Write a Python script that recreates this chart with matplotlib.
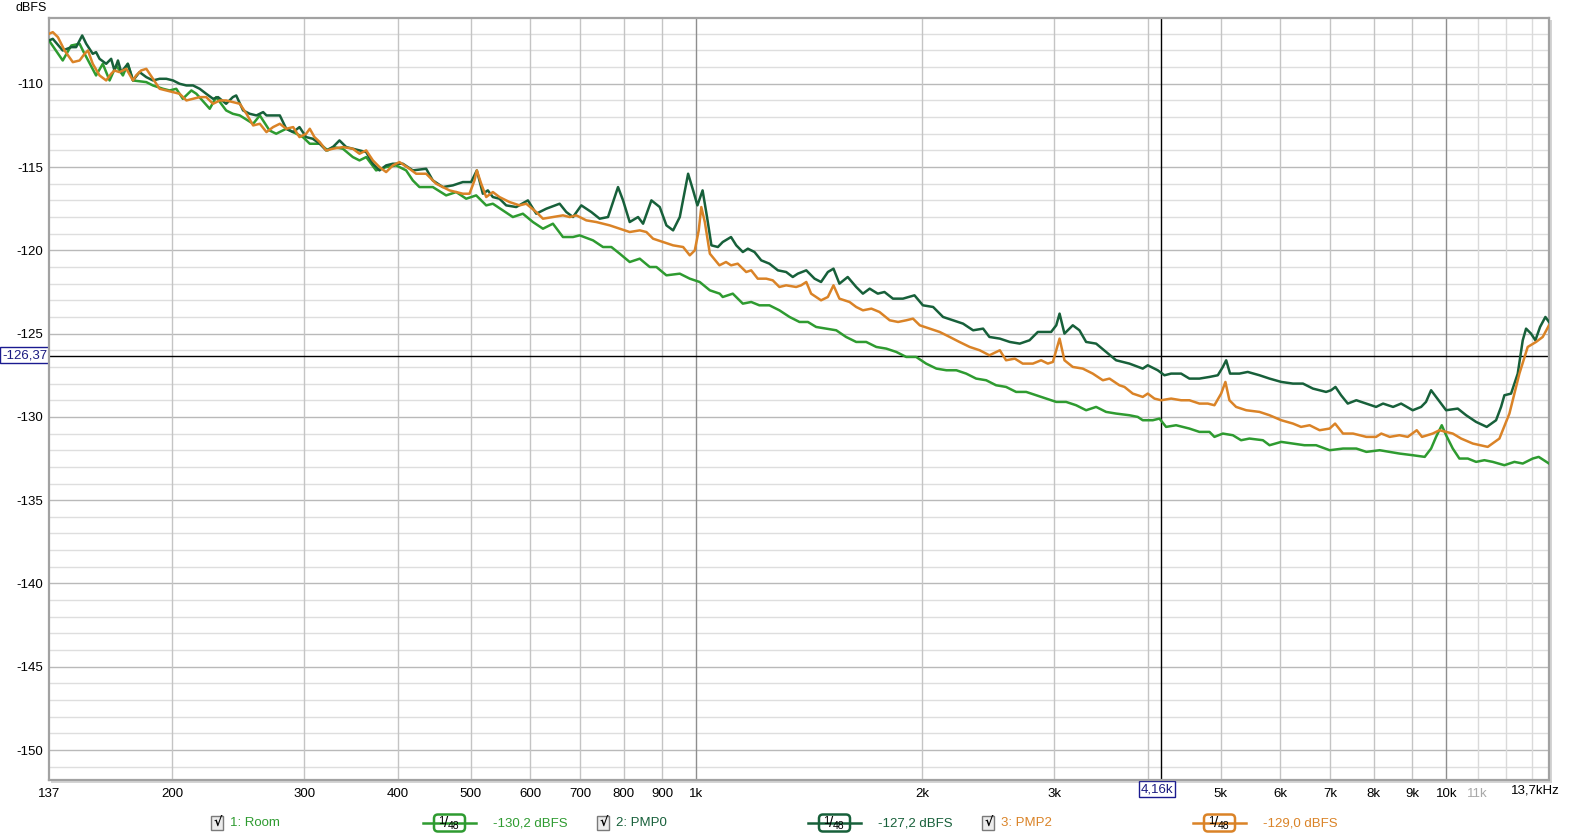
# Spectrum comparison, 1/48 octave smoothing (Room / PMP0 / PMP2)

import matplotlib.pyplot as plt
from matplotlib.patches import Rectangle, FancyBboxPatch

plt.rcParams['font.family'] = ['Liberation Sans Narrow', 'Liberation Sans', 'DejaVu Sans']

# ---- data (Hz, dBFS) ----
room_f = [137, 142.9, 146.7, 150.5, 152.0, 158.3, 161.6, 165.0, 168.4, 171.9, 174.5, 177.3,
          184.7, 188.5, 194.4, 198.4, 202.5, 206.6, 212.1, 215.4, 224.4, 228.9, 236.0, 240.9,
          246.1, 256.4, 261.7, 269.6, 275.2, 283.8, 289.9, 298.7, 305.1, 314.6, 322.4, 327.5,
          337.7, 348.2, 355.4, 362.8, 374.0, 385.7, 397.7, 410.1, 418.6, 427.2, 445.1, 463.7,
          478.2, 493.1, 508.5, 524.4, 535.2, 551.9, 569.1, 586.9, 605.3, 624.2, 643.6, 663.7,
          684.5, 698.6, 727.9, 750.6, 770.1, 790.1, 814.7, 840.2, 866.4, 884.3, 911.9, 950.1,
          979.7, 1010, 1042, 1074, 1084, 1118, 1153, 1183, 1213, 1251, 1290, 1331, 1372, 1408,
          1444, 1489, 1536, 1583, 1633, 1684, 1737, 1791, 1847, 1904, 1963, 2024, 2089, 2154,
          2221, 2289, 2360, 2434, 2509, 2587, 2668, 2752, 2837, 2926, 3018, 3111, 3208, 3308,
          3411, 3517, 3627, 3778, 3876, 3936, 4059, 4143, 4228, 4360, 4542, 4684, 4831, 4905,
          5033, 5190, 5323, 5461, 5692, 5809, 6022, 6242, 6465, 6702, 6986, 7279, 7583, 7820,
          8147, 8401, 8655, 9016, 9354, 9539, 9686, 9857, 9989, 10196, 10405, 10678, 10952,
          11235, 11527, 11947, 12319, 12639, 13033, 13274, 13700]
room_db = [-107.4, -108.6, -107.7, -107.6, -108.0, -109.5, -108.8, -109.8, -108.9, -109.5, -108.8, -109.8,
           -109.9, -110.1, -110.3, -110.4, -110.3, -110.9, -110.4, -110.6, -111.5, -110.8, -111.6, -111.8,
           -111.9, -112.4, -111.9, -112.8, -113.0, -112.7, -112.9, -113.2, -113.6, -113.6, -114.0, -113.8,
           -113.9, -114.4, -114.6, -114.4, -115.2, -115.0, -114.9, -115.2, -115.8, -116.2, -116.2, -116.7,
           -116.5, -116.9, -116.7, -117.3, -117.2, -117.6, -118.0, -117.8, -118.3, -118.7, -118.4, -119.2,
           -119.2, -119.1, -119.4, -119.8, -119.8, -120.2, -120.7, -120.5, -121.0, -121.0, -121.5, -121.4,
           -121.7, -121.9, -122.4, -122.6, -122.8, -122.6, -123.2, -123.1, -123.3, -123.3, -123.6, -124.0, -124.3, -124.3,
           -124.6, -124.7, -124.8, -125.2, -125.5, -125.5, -125.8, -125.9, -126.1, -126.4, -126.4, -126.8, -127.1, -127.2,
           -127.2, -127.4, -127.7, -127.8, -128.1, -128.2, -128.5, -128.5, -128.7, -128.9, -129.1, -129.1, -129.3, -129.6,
           -129.4, -129.7, -129.8, -129.9, -130.0, -130.2, -130.2, -130.1, -130.6, -130.5, -130.7, -130.9, -130.9, -131.2,
           -131.0, -131.1, -131.4, -131.3, -131.4, -131.7, -131.5, -131.6, -131.7, -131.7, -132.0, -131.9, -131.9, -132.1,
           -132.0, -132.1, -132.2, -132.3, -132.4, -131.9, -131.2, -130.5, -131.1, -131.9, -132.5, -132.5, -132.7,
           -132.6, -132.7, -132.9, -132.7, -132.8, -132.5, -132.4, -132.8]

pmp0_f = [137, 138.6, 142.9, 146.7, 148.9, 151.7, 153.6, 156.7, 158.3, 160.0, 163.3, 165.8, 167.5,
          169.3, 171.0, 174.5, 177.3, 180.9, 184.7, 188.5, 192.4, 196.4, 200.5, 204.6, 208.9, 213.2,
          217.6, 222.0, 226.7, 230.2, 236.0, 240.9, 243.4, 248.6, 253.7, 259.0, 264.4, 267.1, 272.6,
          278.3, 283.8, 289.9, 295.6, 301.7, 307.9, 314.6, 320.8, 327.5, 334.2, 341.2, 348.2, 355.4,
          362.8, 370.3, 377.9, 385.7, 393.7, 406.0, 418.6, 436.1, 445.1, 459.0, 473.3, 488.1, 500.7,
          509.5, 519.0, 527.0, 535.2, 546.2, 557.6, 575.0, 596.0, 611.5, 630.6, 657.0, 670.6, 684.5,
          702.2, 724.1, 742.9, 762.2, 774.0, 786.0, 798.2, 814.7, 835.9, 848.8, 870.8, 893.4, 911.9,
          930.8, 950.1, 974.7, 989.8, 1003, 1019, 1033, 1047, 1068, 1084, 1112, 1130, 1153, 1171,
          1195, 1220, 1251, 1284, 1317, 1344, 1365, 1401, 1437, 1466, 1497, 1523, 1551, 1591, 1633,
          1667, 1702, 1745, 1781, 1828, 1885, 1953, 2004, 2068, 2132, 2199, 2267, 2338, 2411, 2458,
          2538, 2617, 2698, 2780, 2852, 2971, 3018, 3049, 3095, 3175, 3241, 3308, 3411, 3517, 3627,
          3778, 3936, 3997, 4121, 4207, 4294, 4428, 4542, 4684, 4831, 4956, 5033, 5085, 5146, 5296,
          5433, 5633, 5809, 6022, 6242, 6437, 6637, 6910, 7017, 7112, 7236, 7386, 7583, 7820, 8057,
          8231, 8488, 8700, 9016, 9252, 9391, 9539, 9686, 9989, 10354, 10623, 10952, 11316, 11645,
          11825, 11947, 12194, 12446, 12639, 12769, 12965, 13139, 13329, 13549, 13700]
pmp0_db = [-107.4, -107.3, -108.0, -107.8, -107.8, -107.1, -107.6, -108.2, -108.1, -108.5, -108.8, -108.5, -109.2,
           -108.6, -109.3, -108.8, -109.8, -109.3, -109.6, -109.8, -109.7, -109.7, -109.8, -110.0, -110.1, -110.1,
           -110.3, -110.6, -110.9, -110.8, -111.2, -110.8, -110.7, -111.6, -111.8, -111.9, -111.7, -111.9, -111.9,
           -111.9, -112.7, -112.9, -112.6, -113.2, -113.3, -113.6, -114.0, -113.8, -113.4, -113.8, -113.9, -114.0,
           -114.1, -114.8, -115.2, -114.9, -114.8, -114.8, -115.2, -115.1, -115.8, -116.2, -116.1, -115.9, -115.9,
           -115.2, -116.6, -116.4, -116.8, -116.9, -117.3, -117.4, -117.0, -117.8, -117.5, -117.2, -117.7, -118.0,
           -117.3, -117.7, -118.1, -118.0, -117.1, -116.2, -117.0, -118.3, -118.0, -118.4, -117.0, -117.4, -118.5,
           -118.8, -118.0, -115.4, -116.4, -117.3, -116.4, -118.0, -119.7, -119.8, -119.5, -119.2, -119.7, -120.1, -119.9,
           -120.1, -120.6, -120.8, -121.2, -121.3, -121.6, -121.4, -121.2, -121.7, -121.9, -121.3, -121.1, -122.0, -121.6, -122.2,
           -122.6, -122.3, -122.6, -122.5, -122.9, -122.9, -122.7, -123.3, -123.4, -124.0, -124.2, -124.4, -124.8, -124.7, -125.2,
           -125.3, -125.5, -125.6, -125.4, -124.9, -124.9, -124.5, -123.8, -125.0, -124.5, -124.8, -125.5, -125.6, -126.1, -126.6,
           -126.8, -127.1, -126.9, -127.2, -127.5, -127.4, -127.4, -127.7, -127.7, -127.6, -127.5, -127.0, -126.6, -127.4, -127.4,
           -127.3, -127.5, -127.7, -127.9, -128.0, -128.0, -128.3, -128.5, -128.4, -128.2, -128.7, -129.2, -129.0, -129.2, -129.4,
           -129.2, -129.4, -129.2, -129.6, -129.4, -129.1, -128.4, -128.8, -129.6, -129.5, -129.9, -130.3, -130.6, -130.2,
           -129.4, -128.7, -128.6, -127.4, -125.4, -124.7, -125.0, -125.4, -124.6, -124.0, -124.3]

pmp2_f = [137, 138.6, 140.8, 143.7, 147.4, 150.5, 152.8, 154.4, 156.7, 160.0, 163.3, 165.8, 167.5,
          170.1, 173.7, 177.3, 179.0, 181.8, 184.7, 188.5, 192.4, 196.4, 200.5, 204.6, 208.9, 213.2,
          217.6, 222.0, 226.7, 231.4, 236.0, 240.9, 246.1, 251.2, 256.4, 261.7, 267.1, 272.6, 278.3,
          283.8, 289.9, 295.6, 301.7, 305.1, 309.5, 314.6, 320.8, 327.5, 337.7, 348.2, 355.4, 362.8,
          370.3, 377.9, 385.7, 393.7, 401.8, 414.3, 422.9, 436.1, 449.7, 468.5, 488.1, 498.2, 505.9,
          509.5, 516.4, 524.4, 535.2, 546.2, 563.3, 580.9, 592.9, 611.5, 624.2, 643.6, 663.7, 677.5,
          691.5, 713.1, 735.3, 766.2, 790.1, 814.7, 840.2, 857.5, 875.3, 902.6, 930.8, 959.9, 979.7,
          994.9, 1007, 1015, 1026, 1042, 1073, 1095, 1112, 1135, 1165, 1183, 1207, 1239, 1264, 1290,
          1317, 1358, 1379, 1401, 1422, 1466, 1497, 1523, 1551, 1600, 1633, 1667, 1711, 1754, 1810,
          1857, 1904, 1944, 1985, 2047, 2110, 2176, 2242, 2314, 2386, 2458, 2538, 2587, 2657, 2723,
          2809, 2881, 2941, 2987, 3018, 3049, 3095, 3175, 3274, 3376, 3482, 3554, 3664, 3721, 3817,
          3936, 3997, 4080, 4164, 4294, 4428, 4542, 4684, 4806, 4905, 5007, 5073, 5136, 5242, 5407,
          5633, 5809, 6022, 6242, 6399, 6570, 6775, 6986, 7104, 7279, 7506, 7820, 8057, 8187, 8401,
          8655, 8879, 9128, 9277, 9587, 9786, 10196, 10461, 10843, 11351, 11765, 12132, 12510, 12833,
          13166, 13439, 13700]
pmp2_db = [-107.0, -106.9, -107.2, -108.0, -108.7, -108.6, -108.2, -108.0, -108.8, -109.5, -109.8, -109.4, -109.2,
           -109.3, -109.1, -109.8, -109.5, -109.2, -109.1, -109.7, -110.3, -110.4, -110.5, -110.6, -111.0, -110.9,
           -110.8, -110.8, -111.2, -111.0, -111.0, -111.1, -111.2, -111.8, -112.5, -112.4, -112.9, -112.6, -112.4,
           -112.7, -112.6, -113.2, -113.0, -112.7, -113.2, -113.5, -114.0, -113.9, -113.8, -113.9, -114.2, -114.0,
           -114.6, -115.0, -115.3, -114.9, -114.7, -115.1, -115.4, -115.4, -116.0, -116.4, -116.6, -116.6, -115.8,
           -115.2, -116.0, -116.8, -116.5, -116.8, -117.1, -117.3, -117.2, -117.7, -118.1, -118.0, -117.9, -118.0,
           -117.9, -118.2, -118.3, -118.5, -118.7, -118.9, -118.8, -118.9, -119.3, -119.5, -119.7, -119.8, -120.3,
           -120.0, -118.8, -117.4, -118.3, -120.2, -120.9, -120.7, -120.9, -120.8, -121.3, -121.2, -121.7, -121.7, -121.8, -122.2,
           -122.1, -122.2, -122.1, -121.9, -122.6, -123.0, -122.8, -122.1, -122.9, -123.1, -123.4, -123.6, -123.5, -123.7, -124.2,
           -124.3, -124.2, -124.1, -124.5, -124.7, -124.9, -125.2, -125.5, -125.8, -126.0, -126.3, -126.0, -126.6, -126.5, -126.8,
           -126.8, -126.6, -126.8, -126.7, -126.0, -125.3, -126.6, -127.0, -127.1, -127.4, -127.8, -127.7, -128.1, -128.2, -128.6,
           -128.8, -128.6, -128.9, -129.0, -128.9, -129.0, -129.0, -129.2, -129.2, -129.3, -128.6, -127.9, -129.0, -129.4, -129.6,
           -129.7, -129.9, -130.2, -130.4, -130.6, -130.5, -130.8, -130.7, -130.4, -131.0, -131.0, -131.2, -131.2, -131.0, -131.2,
           -131.1, -131.2, -130.8, -131.2, -131.0, -130.8, -131.0, -131.3, -131.6, -131.8, -131.3, -129.8, -127.4, -125.8,
           -125.5, -125.2, -124.5]

series_names = ['1: Room', '2: PMP0', '3: PMP2']
series_values = ['-130,2 dBFS', '-127,2 dBFS', '-129,0 dBFS']
colors = ['#2e9b30', '#17603a', '#da8327']

xtick_vals = [137, 200, 300, 400, 500, 600, 700, 800, 900, 1000,
              2000, 3000, 4000, 5000, 6000, 7000, 8000, 9000, 10000, 11000]
xtick_labels = ['137', '200', '300', '400', '500', '600', '700', '800', '900', '1k',
                '2k', '3k', '', '5k', '6k', '7k', '8k', '9k', '10k', '11k']
ytick_vals = [-150, -145, -140, -135, -130, -125, -120, -115, -110]

cursor_f = 4160
cursor_db = -126.37

# ---- figure ----
W, H = 1574, 838
fig = plt.figure(figsize=(W / 100, H / 100), dpi=100)

# overlay in pixel coords for the bits outside the plot
ov = fig.add_axes([0, 0, 1, 1], zorder=0)
ov.set_xlim(0, W)
ov.set_ylim(H, 0)
ov.axis('off')

# drop shadow of the plot frame
ov.add_patch(Rectangle((51, 20), 1501, 763, fc='#d4d4d4', ec='none'))

ax = fig.add_axes([49 / W, 1 - 780 / H, 1500 / W, 762 / H], zorder=1)
ax.set_facecolor('white')
ax.set_xscale('log')
ax.set_xlim(137, 13700)
ax.set_ylim(-151.8, -106.05)

# horizontal grid: 1 dB minor, 5 dB major
for v in range(-151, -106):
    c = '#b9b9b9' if v % 5 == 0 else '#dedede'
    ax.axhline(v, color=c, lw=1, zorder=0)

# vertical grid
for v in xtick_vals[1:]:
    if v in (1000, 10000):
        c = '#8e8e8e'
    elif v == 11000:
        c = '#dadada'
    else:
        c = '#c4c4c4'
    ax.axvline(v, color=c, lw=1, zorder=0)
for v in (12000, 13000):
    ax.axvline(v, color='#dadada', lw=1, zorder=0)

# cursor
ax.axvline(cursor_f, color='black', lw=1, zorder=1)
ax.axhline(cursor_db, color='black', lw=1, zorder=1)

ax.plot(room_f, room_db, color=colors[0], lw=1.8, zorder=3)
ax.plot(pmp0_f, pmp0_db, color=colors[1], lw=1.8, zorder=3)
ax.plot(pmp2_f, pmp2_db, color=colors[2], lw=1.8, zorder=4)

for s in ax.spines.values():
    s.set_color('#a2a2a2')
    s.set_linewidth(1.6)

ax.set_yticks(ytick_vals)
ax.set_yticklabels([str(v) for v in ytick_vals], fontsize=9.5)
ax.set_xticks(xtick_vals)
ax.set_xticklabels(xtick_labels, fontsize=9.5)
ax.minorticks_off()
ax.tick_params(axis='y', length=0, pad=4)
ax.tick_params(axis='x', length=0, pad=6)
ax.get_xticklabels()[-1].set_color('#a8a8a8')

# text around the frame
ov.text(15, 8, 'dBFS', fontsize=9, ha='left', va='center')
ov.text(1560, 790, '13,7kHz', fontsize=9.5, ha='right', va='center')
ov.text(25, 355, '-126,37', fontsize=9.5, ha='center', va='center', color='#1a1a80',
        bbox=dict(boxstyle='square,pad=0.15', fc='white', ec='#1a1a90', lw=1))
ov.text(1157, 789, '4,16k', fontsize=9.5, ha='center', va='center', color='#1a1a80',
        bbox=dict(boxstyle='square,pad=0.15', fc='white', ec='#1a1a90', lw=1))

# legend row
ly = 823
check_x = [211, 597, 982]
badge_x = [423, 808, 1193]
for i in range(3):
    cx, bx, col = check_x[i], badge_x[i], colors[i]
    ov.add_patch(Rectangle((cx, ly - 7), 12, 14, fc='#ececec', ec='#7a7a7a', lw=1))
    ov.text(cx + 6.5, ly, '√', fontsize=9, ha='center', va='center', color='black',
            family='DejaVu Sans', fontweight='bold')
    ov.text(cx + 19, ly, series_names[i], fontsize=9.5, ha='left', va='center', color=col)
    ov.plot([bx, bx + 53], [ly, ly], color=col, lw=1.8)
    ov.add_patch(FancyBboxPatch((bx + 11, ly - 8.5), 31, 17, boxstyle='round,pad=0,rounding_size=4',
                                fc='white', ec=col, lw=1.8))
    ov.text(bx + 18, ly - 2, '1', fontsize=8, ha='center', va='center', color='black')
    ov.text(bx + 23, ly, '/', fontsize=11, ha='center', va='center', color='black')
    ov.text(bx + 31, ly + 2.5, '48', fontsize=7.5, ha='center', va='center', color='black')
    ov.text(bx + 70, ly, series_values[i], fontsize=9.5, ha='left', va='center', color=col)

fig.savefig('out.png', dpi=100)
